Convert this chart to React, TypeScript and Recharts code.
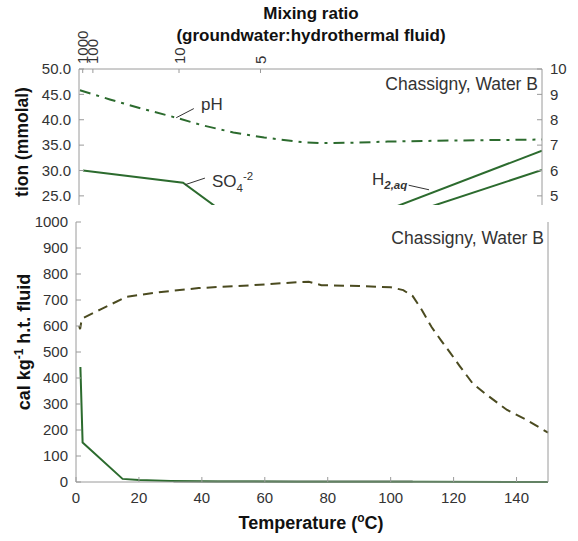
import React from 'react';
import { LineChart, Line, XAxis, YAxis, ReferenceLine } from 'recharts';

const FONT = '"Liberation Sans", Arial, sans-serif';
const GREEN = '#2c6b2e';
const OLIVE = '#4b4b20';
const AXIS = '#9a9a9a';
const TXT = '#333';

// ---------- top panel ----------
const concTicks = [25, 30, 35, 40, 45, 50];
const phTicks = [5, 6, 7, 8, 9, 10];
const mixTickTemps = [1.2, 4.5, 32.4, 58.8];
const mixTickLabels = ['1000', '100', '10', '5'];

const phTemps = [0.3, 10, 20, 31.5, 40, 50, 60, 72, 78, 90, 100, 120, 150];
const phValues = [9.16, 8.8, 8.45, 8.08, 7.78, 7.5, 7.3, 7.12, 7.08, 7.1, 7.14, 7.18, 7.22];

const so4Temps = [1.3, 33.7, 44, 48];
const so4Values = [30.0, 27.6, 23.0, 21.2];

const h2aTemps = [98, 150];
const h2aValues = [21.8, 33.9];
const h2bTemps = [110, 150];
const h2bValues = [22.1, 30.1];

// ---------- bottom panel ----------
const tempTicks = [0, 20, 40, 60, 80, 100, 120, 140];
const energyTicks = [0, 100, 200, 300, 400, 500, 600, 700, 800, 900, 1000];

const dashTemps = [1, 1.3, 1.8, 2.5, 8, 16, 25, 39, 55, 71, 74, 78, 90, 100, 104, 107, 110, 113, 116, 119, 122, 126, 130, 137, 143, 150];
const dashValues = [600, 588, 625, 632, 665, 712, 728, 746, 756, 769, 770, 757, 754, 749, 738, 715, 660, 596, 545, 496, 445, 380, 340, 277, 240, 190];

const solidTemps = [1.4, 2.1, 14.8, 20, 30, 45, 70, 110, 150];
const solidValues = [442, 152, 12, 8, 4, 2, 1, 0.5, 0.3];

const darkTemps = [31, 107];
const darkValues = [1.5, 1.5];

const zip = (ts: number[], vs: number[]) => ts.map((t, i) => ({ t, v: vs[i] }));

const phData = zip(phTemps, phValues);
const so4Data = zip(so4Temps, so4Values);
const h2aData = zip(h2aTemps, h2aValues);
const h2bData = zip(h2bTemps, h2bValues);
const dashData = zip(dashTemps, dashValues);
const solidData = zip(solidTemps, solidValues);
const darkData = zip(darkTemps, darkValues);

const TICK_FS = 15;
const tickStyle = { fontSize: TICK_FS, fill: TXT, fontFamily: FONT };

const MixTick = (props: any) => {
  const { x, y, payload } = props;
  const i = mixTickTemps.indexOf(payload && payload.value);
  const label = i >= 0 ? mixTickLabels[i] : '';
  return (
    <g>
      <text
        x={x}
        y={y}
        transform={`rotate(-90 ${x} ${y})`}
        textAnchor="start"
        dominantBaseline="central"
        fontSize={TICK_FS}
        fill={TXT}
        fontFamily={FONT}
      >
        {label}
      </text>
    </g>
  );
};

export default function App() {
  return (
    <div style={{ position: 'absolute', left: 0, top: 0, width: 578, height: 541, background: '#fff', fontFamily: FONT }}>
      <div style={{ position: 'absolute', left: 0, top: 0 }}>
        <LineChart width={578} height={205} margin={{ top: 29, right: 0, bottom: 0, left: 0 }}>
          <XAxis xAxisId="t" dataKey="t" type="number" domain={[0, 150]} hide allowDataOverflow />
          <XAxis
            xAxisId="mix"
            orientation="top"
            type="number"
            dataKey="t"
            domain={[0, 150]}
            ticks={mixTickTemps}
            height={40}
            tick={MixTick}
            tickSize={-4}
            tickMargin={9}
            axisLine={{ stroke: AXIS }}
            tickLine={{ stroke: AXIS }}
            interval={0}
            allowDataOverflow
          />
          <YAxis
            yAxisId="left"
            type="number"
            domain={[23.2, 50]}
            ticks={concTicks}
            allowDataOverflow
            width={79}
            tickFormatter={(v: number) => v.toFixed(1)}
            tick={tickStyle}
            tickSize={-5}
            tickMargin={13}
            axisLine={{ stroke: AXIS }}
            tickLine={{ stroke: AXIS }}
            interval={0}
          />
          <YAxis
            yAxisId="right"
            orientation="right"
            type="number"
            domain={[4.64, 10]}
            ticks={phTicks}
            allowDataOverflow
            width={36}
            tick={tickStyle}
            tickSize={-5}
            tickMargin={13}
            axisLine={{ stroke: AXIS }}
            tickLine={{ stroke: AXIS }}
            interval={0}
          />
          <Line xAxisId="mix" yAxisId="right" data={phData} dataKey="v" stroke="none" dot={false} activeDot={false} isAnimationActive={false} legendType="none" />
          <Line xAxisId="t" yAxisId="right" data={phData} dataKey="v" stroke={GREEN} strokeWidth={2} strokeDasharray="11 6 3 6" dot={false} activeDot={false} isAnimationActive={false} />
          <Line xAxisId="t" yAxisId="left" data={so4Data} dataKey="v" stroke={GREEN} strokeWidth={2} dot={false} activeDot={false} isAnimationActive={false} />
          <Line xAxisId="t" yAxisId="left" data={h2aData} dataKey="v" stroke={GREEN} strokeWidth={2} dot={false} activeDot={false} isAnimationActive={false} />
          <Line xAxisId="t" yAxisId="left" data={h2bData} dataKey="v" stroke={GREEN} strokeWidth={2} dot={false} activeDot={false} isAnimationActive={false} />
          <ReferenceLine xAxisId="t" yAxisId="left" segment={[{ x: 31.5, y: 40.4 }, { x: 37.2, y: 42.2 }]} stroke="#333" strokeWidth={1} ifOverflow="visible" />
          <ReferenceLine xAxisId="t" yAxisId="left" segment={[{ x: 34.4, y: 27.2 }, { x: 40.8, y: 28.5 }]} stroke="#333" strokeWidth={1} ifOverflow="visible" />
          <ReferenceLine xAxisId="t" yAxisId="left" segment={[{ x: 106.8, y: 27.1 }, { x: 113.4, y: 26.2 }]} stroke="#333" strokeWidth={1} ifOverflow="visible" />
        </LineChart>
      </div>

      <div style={{ position: 'absolute', left: 0, top: 205 }}>
        <LineChart width={578} height={336} margin={{ top: 17, right: 0, bottom: 29, left: 0 }}>
          <XAxis
            xAxisId="t"
            dataKey="t"
            type="number"
            domain={[0, 150]}
            ticks={tempTicks}
            height={30}
            tick={tickStyle}
            tickSize={-5}
            tickMargin={15}
            axisLine={{ stroke: AXIS }}
            tickLine={{ stroke: AXIS }}
            interval={0}
          />
          <XAxis xAxisId="top" orientation="top" type="number" domain={[0, 150]} height={0} tick={false} tickLine={false} axisLine={{ stroke: AXIS }} />
          <YAxis
            yAxisId="left"
            type="number"
            domain={[0, 1000]}
            ticks={energyTicks}
            width={76}
            tick={tickStyle}
            tickSize={-5}
            tickMargin={13}
            axisLine={{ stroke: AXIS }}
            tickLine={{ stroke: AXIS }}
            interval={0}
          />
          <YAxis yAxisId="r" orientation="right" type="number" domain={[0, 1000]} width={30} tick={false} tickLine={false} axisLine={{ stroke: AXIS }} />
          <Line xAxisId="t" yAxisId="left" data={dashData} dataKey="v" stroke={OLIVE} strokeWidth={2} strokeDasharray="10 6" dot={false} activeDot={false} isAnimationActive={false} />
          <Line xAxisId="t" yAxisId="left" data={darkData} dataKey="v" stroke="#1e1e1e" strokeWidth={1.5} dot={false} activeDot={false} isAnimationActive={false} />
          <Line xAxisId="t" yAxisId="left" data={solidData} dataKey="v" stroke={GREEN} strokeWidth={2} dot={false} activeDot={false} isAnimationActive={false} />
        </LineChart>
      </div>

      <svg width={578} height={541} style={{ position: 'absolute', left: 0, top: 0, pointerEvents: 'none' }} fontFamily={FONT}>
        <text x={311} y={19} textAnchor="middle" fontWeight="bold" fontSize={17} fill="#111">Mixing ratio</text>
        <text x={311} y={41} textAnchor="middle" fontWeight="bold" fontSize={17} fill="#111">(groundwater:hydrothermal fluid)</text>

        <text x={538} y={90} textAnchor="end" fontSize={17.5} fill={TXT}>Chassigny, Water B</text>
        <text x={544} y={244} textAnchor="end" fontSize={17.5} fill={TXT}>Chassigny, Water B</text>

        <text x={201} y={110} fontSize={17} fill={TXT}>pH</text>
        <text x={212} y={187} fontSize={17} fill={TXT}>
          SO<tspan fontSize={11.5} dy={5}>4</tspan>
          <tspan fontSize={11.5} dy={-12}>-2</tspan>
        </text>
        <text x={372} y={185} fontSize={17} fill={TXT}>
          H<tspan fontSize={11.5} dy={4} fontStyle="italic" fontWeight="bold">2,aq</tspan>
        </text>

        <text transform="translate(28,142) rotate(-90)" textAnchor="middle" fontWeight="bold" fontSize={17.5} fill="#111">tion (mmolal)</text>
        <text transform="translate(30,342) rotate(-90)" textAnchor="middle" fontWeight="bold" fontSize={18} fill="#111">
          cal kg<tspan fontSize={12} dy={-7}>-1</tspan>
          <tspan dy={7}> h.t. fluid</tspan>
        </text>

        <text x={311} y={529} textAnchor="middle" fontWeight="bold" fontSize={18} fill="#111">
          Temperature (<tspan fontSize={12} dy={-7}>o</tspan>
          <tspan dy={7}>C)</tspan>
        </text>
      </svg>
    </div>
  );
}
